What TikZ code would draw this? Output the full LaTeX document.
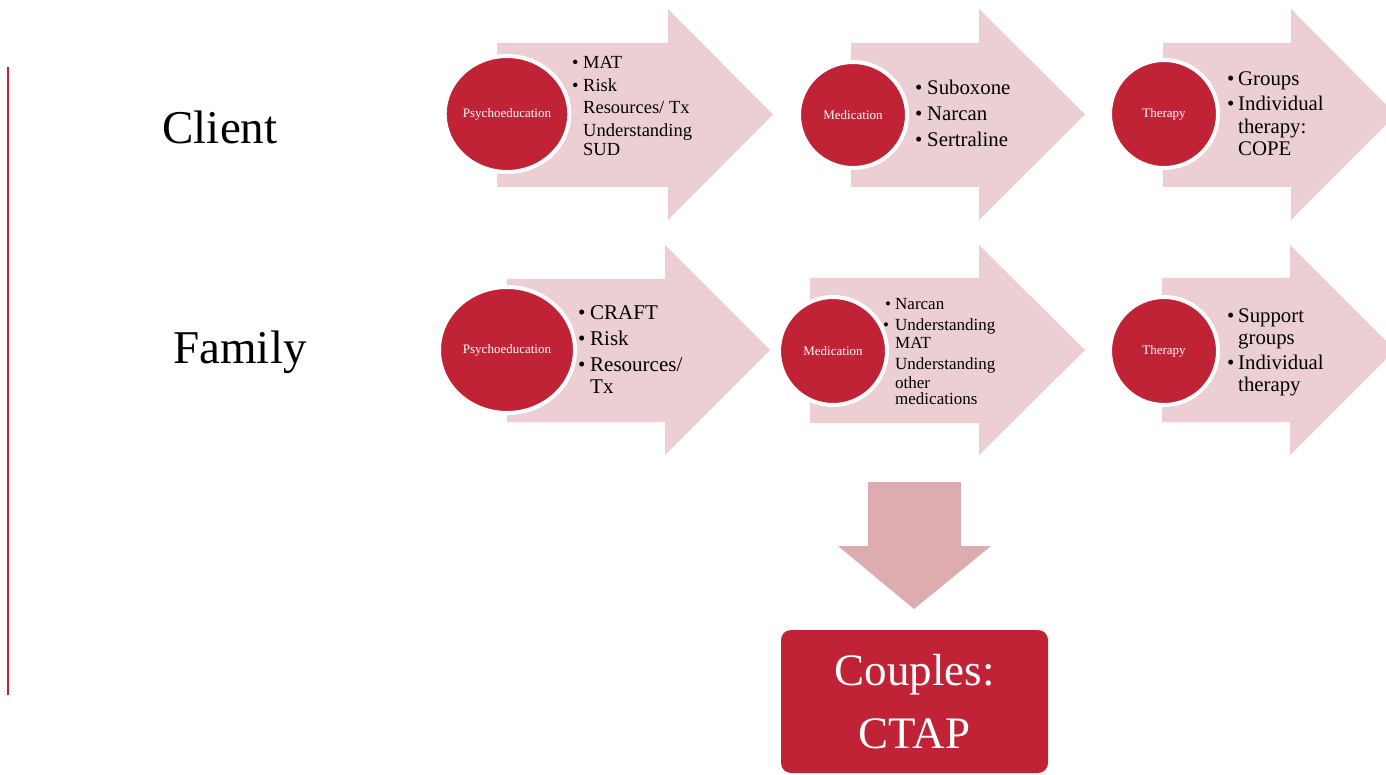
\documentclass[tikz,border=0pt]{standalone}
\usepackage{fontspec}
\setmainfont{Liberation Serif}
\usetikzlibrary{shapes.geometric}
\definecolor{dred}{HTML}{C02236}
\definecolor{apink}{HTML}{ECCFD2}
\definecolor{dpink}{HTML}{DDACAF}
\tikzset{
  bigarrow/.style={fill=apink, draw=none},
  disc/.style={ellipse, fill=dred, draw=white, line width=4pt, text=white, inner sep=0pt,
    font=\fontsize{13}{15}\selectfont},
  item/.style={anchor=mid west, inner sep=0pt, text=black, yshift=-4.5pt},
  rowlabel/.style={font=\fontsize{47}{52}\selectfont, inner sep=0pt}
}
\newcommand{\bigarr}[7]{% left, bodytop, bodybot, headx, headtop, headbot, tip
  \fill[bigarrow] (#1,#2) -- (#4,#2) -- (#4,#5) -- (#7,{(#5+#6)/2}) -- (#4,#6) -- (#4,#3) -- (#1,#3) -- cycle;}
\begin{document}
\begin{tikzpicture}[x=1pt,y=-1pt]
\useasboundingbox (0,0) rectangle (1386,775);
\clip (0,0) rectangle (1386,775);
\fill[white] (0,0) rectangle (1386,775);

% vertical line
\coordinate (vtop) at (8,67);
\coordinate (vbot) at (8,695);
\draw[dred, line width=2.2pt] (vtop) -- (vbot);

% row labels
\node[rowlabel] (client) at (220,127) {Client};
\node[rowlabel] (family) at (240,352) {Family};

% ---------- Client row ----------
\bigarr{497}{43}{187}{668}{9}{220}{773}
\bigarr{851}{43}{187}{979}{9}{220}{1085}
\bigarr{1163}{43}{187}{1291}{9}{220}{1396}

\begin{scope}[font=\fontsize{18.5}{21}\selectfont]
\node[item] (c1a) at (572,62) {\textbullet};
\node[item] (c1b) at (572,85) {\textbullet};
\node[item] (c1t1) at (583,62) {MAT};
\node[item] (c1t2) at (583,85) {Risk};
\node[item] (c1t3) at (583,107) {Resources/ Tx};
\node[item] (c1t4) at (583,130) {Understanding};
\node[item] (c1t5) at (583,149) {SUD};
\end{scope}
\node[disc, minimum width=122pt, minimum height=116pt] (c1) at (507,114) {Psychoeducation};

\node[disc, minimum width=108pt, minimum height=106pt] (c2) at (853,115) {Medication};
\begin{scope}[font=\fontsize{20.8}{24}\selectfont]
\node[item] (c2a) at (915,88) {\textbullet};
\node[item] (c2b) at (915,114) {\textbullet};
\node[item] (c2c) at (915,140) {\textbullet};
\node[item] (c2t1) at (927,88) {Suboxone};
\node[item] (c2t2) at (927,114) {Narcan};
\node[item] (c2t3) at (927,140) {Sertraline};
\end{scope}

\node[disc, minimum width=108pt, minimum height=108pt] (c3) at (1164,114) {Therapy};
\begin{scope}[font=\fontsize{20.8}{24}\selectfont]
\node[item] (c3a) at (1227,79) {\textbullet};
\node[item] (c3b) at (1227,104) {\textbullet};
\node[item] (c3t1) at (1238,79) {Groups};
\node[item] (c3t2) at (1238,104) {Individual};
\node[item] (c3t3) at (1238,127) {therapy:};
\node[item] (c3t4) at (1238,149) {COPE};
\end{scope}

% ---------- Family row ----------
\bigarr{507}{279}{422}{665}{245}{455}{770}
\bigarr{810}{278}{423}{979}{245}{455}{1085}
\bigarr{1162}{278}{422}{1290}{245}{455}{1395}

\node[disc, minimum width=136pt, minimum height=126pt] (f1) at (507,350) {Psychoeducation};
\begin{scope}[font=\fontsize{21}{24}\selectfont]
\node[item] (f1a) at (578,313) {\textbullet};
\node[item] (f1b) at (578,339) {\textbullet};
\node[item] (f1c) at (578,365) {\textbullet};
\node[item] (f1t1) at (590,313) {CRAFT};
\node[item] (f1t2) at (590,339) {Risk};
\node[item] (f1t3) at (590,365) {Resources/};
\node[item] (f1t4) at (590,387) {Tx};
\end{scope}

\begin{scope}[font=\fontsize{17}{19}\selectfont]
\node[item] (f2a) at (885,303) {\textbullet};
\node[item] (f2b) at (883,324) {\textbullet};
\node[item] (f2t1) at (895,303) {Narcan};
\node[item] (f2t2) at (895,324) {Understanding};
\node[item] (f2t3) at (895,342) {MAT};
\node[item] (f2t4) at (895,363) {Understanding};
\node[item] (f2t5) at (895,382) {other};
\node[item] (f2t6) at (895,398) {medications};
\end{scope}
\node[disc, minimum width=108pt, minimum height=108pt] (f2) at (833,351) {Medication};

\node[disc, minimum width=108pt, minimum height=108pt] (f3) at (1164,351) {Therapy};
\begin{scope}[font=\fontsize{20.8}{24}\selectfont]
\node[item] (f3a) at (1227,316) {\textbullet};
\node[item] (f3b) at (1227,363) {\textbullet};
\node[item] (f3t1) at (1238,316) {Support};
\node[item] (f3t2) at (1238,338) {groups};
\node[item] (f3t3) at (1238,363) {Individual};
\node[item] (f3t4) at (1238,385) {therapy};
\end{scope}

% ---------- Down arrow and result ----------
\fill[dpink] (868,482) -- (961,482) -- (961,546) -- (991,546) -- (914,609) -- (838,546) -- (868,546) -- cycle;

\node[fill=dred, rounded corners=10pt, minimum width=267pt, minimum height=143pt,
  text=white, align=center, inner sep=0pt,
  font=\fontsize{45}{63}\selectfont] (couples) at (914.5,701.5) {Couples:\\CTAP};
\end{tikzpicture}
\end{document}
